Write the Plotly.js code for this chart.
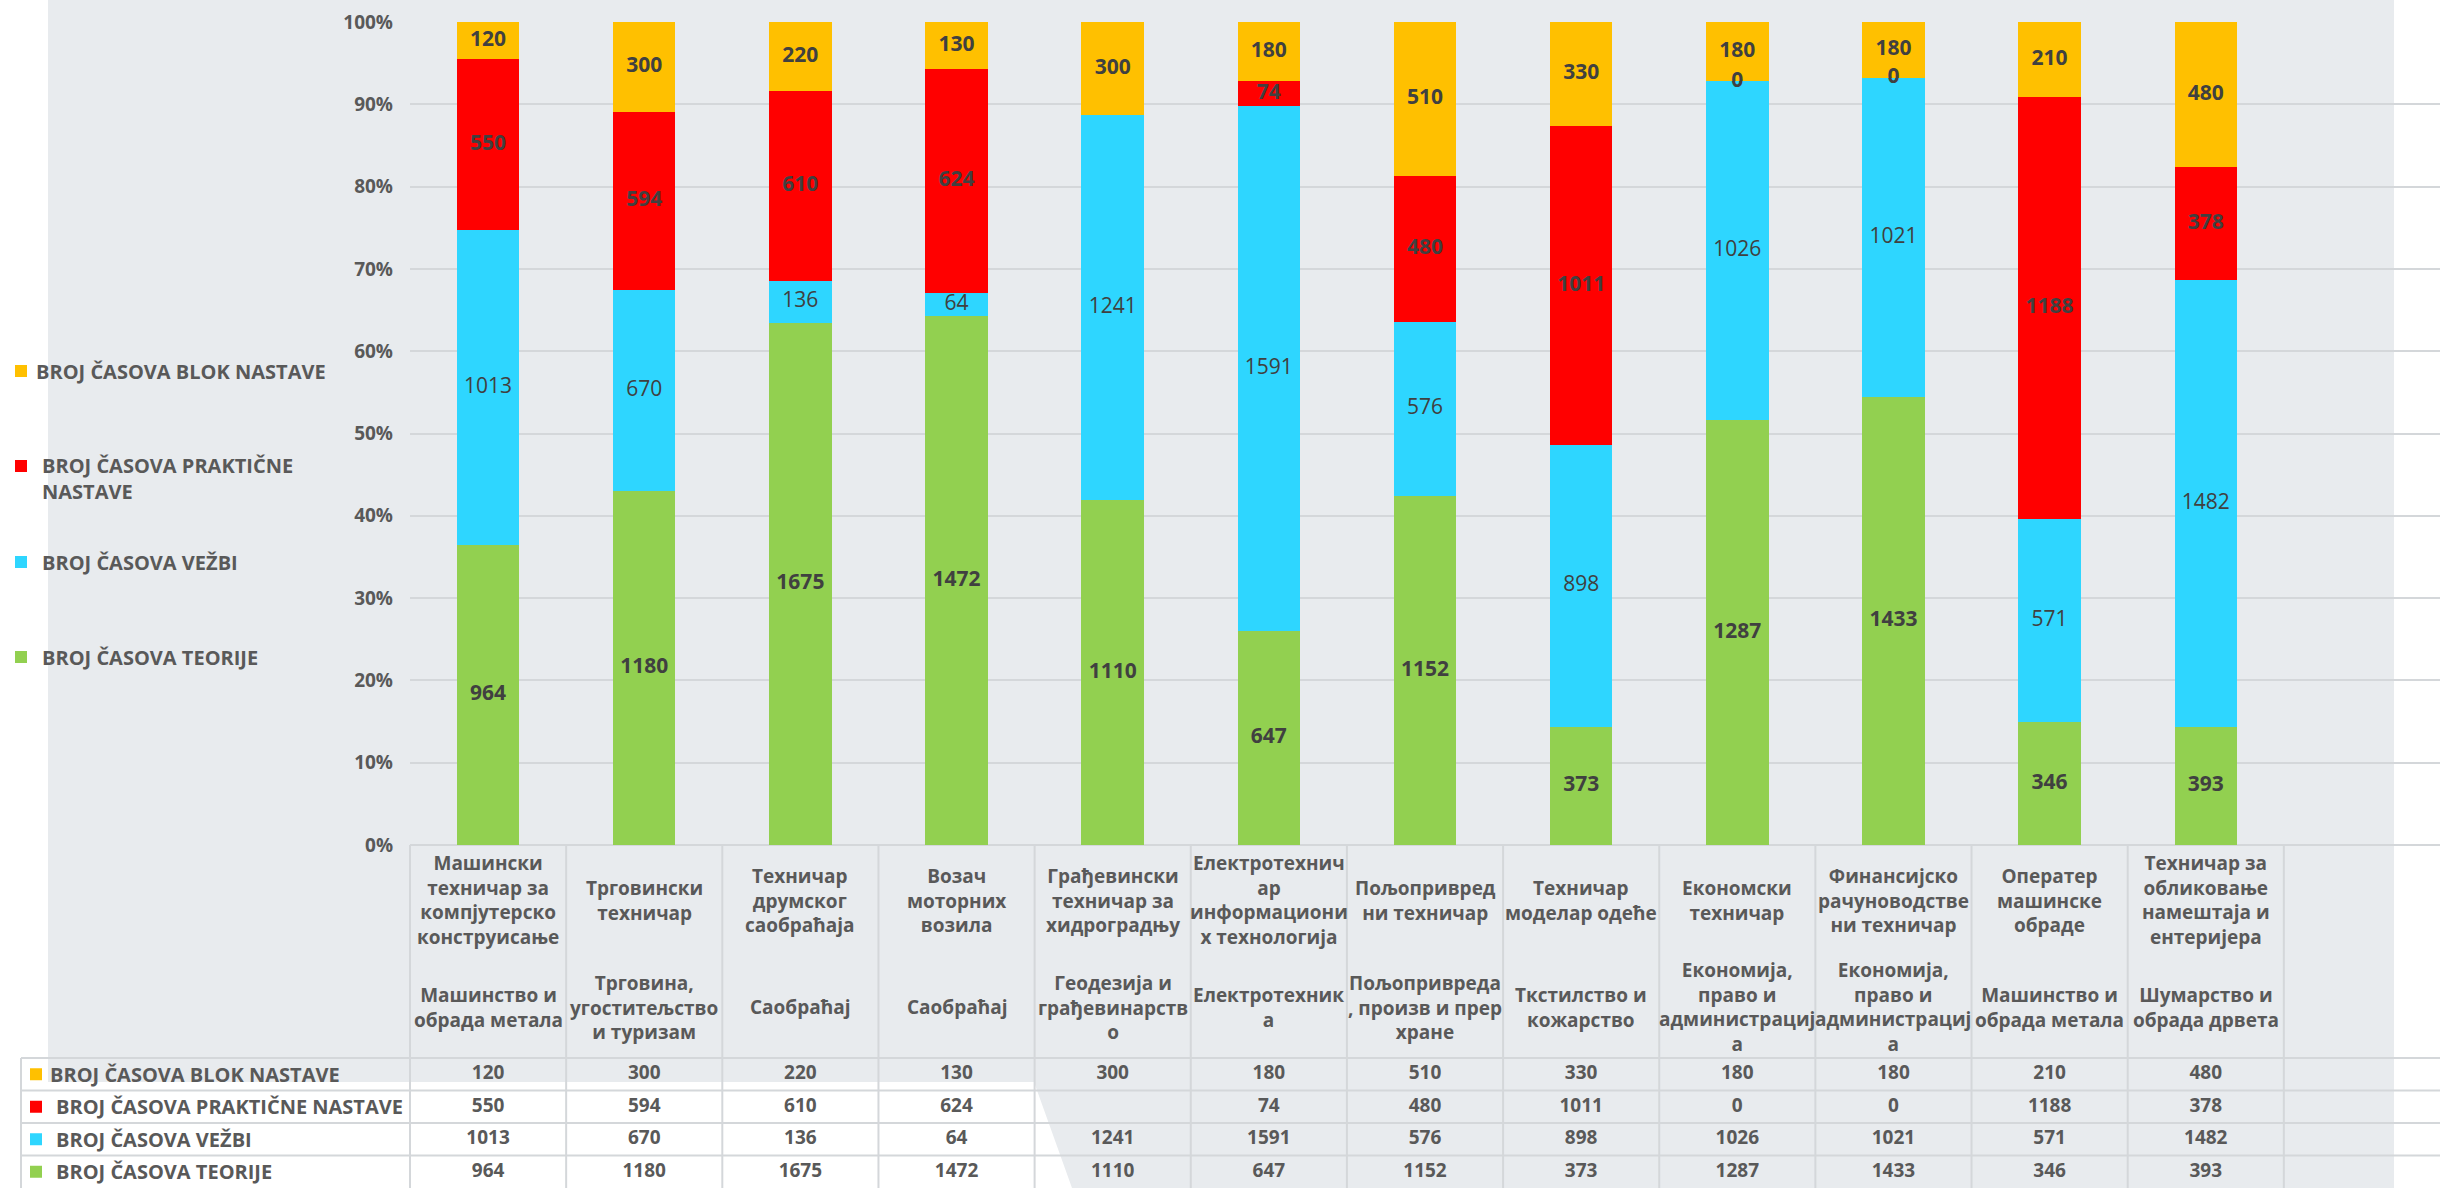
<!DOCTYPE html>
<html><head><meta charset="utf-8">
<script src="https://cdn.plot.ly/plotly-3.0.1.min.js"></script>
<style>html,body{margin:0;padding:0;background:#fff;overflow:hidden;} #chart{width:2440px;height:1188px;}</style>
</head><body><div id="chart"></div>
<script>
// ---- DATA ----
const occupations = [
  'Машински<br>техничар за<br>компјутерско<br>конструисање',
  'Трговински<br>техничар',
  'Техничар<br>друмског<br>саобраћаја',
  'Возач<br>моторних<br>возила',
  'Грађевински<br>техничар за<br>хидроградњу',
  'Електротехнич<br>ар<br>информациони<br>х технологија',
  'Пољопривред<br>ни техничар',
  'Техничар<br>моделар одеће',
  'Економски<br>техничар',
  'Финансијско<br>рачуноводстве<br>ни техничар',
  'Оператер<br>машинске<br>обраде',
  'Техничар за<br>обликовање<br>намештаја и<br>ентеријера'
];
const fields = [
  'Машинство и<br>обрада метала',
  'Трговина,<br>угоститељство<br>и туризам',
  'Саобраћај',
  'Саобраћај',
  'Геодезија и<br>грађевинарств<br>о',
  'Електротехник<br>а',
  'Пољопривреда<br>, произв и прер<br>хране',
  'Ткстилство и<br>кожарство',
  'Економија,<br>право и<br>администрациј<br>а',
  'Економија,<br>право и<br>администрациј<br>а',
  'Машинство и<br>обрада метала',
  'Шумарство и<br>обрада дрвета'
];
const seriesNames = ['BROJ ČASOVA BLOK NASTAVE', 'BROJ ČASOVA PRAKTIČNE NASTAVE', 'BROJ ČASOVA VEŽBI', 'BROJ ČASOVA TEORIJE'];
const blok      = [120, 300, 220, 130, 300, 180, 510, 330, 180, 180, 210, 480];
const prakticne = [550, 594, 610, 624, null, 74, 480, 1011, 0, 0, 1188, 378];
const vezbi     = [1013, 670, 136, 64, 1241, 1591, 576, 898, 1026, 1021, 571, 1482];
const teorije   = [964, 1180, 1675, 1472, 1110, 647, 1152, 373, 1287, 1433, 346, 393];
const yTicks    = [0, 10, 20, 30, 40, 50, 60, 70, 80, 90, 100];

// ---- STYLE ----
const colors = {blok: '#FFC000', prak: '#FF0000', vezbi: '#2ED6FF', teorije: '#92D050'};
const FONT = 'Open Sans, Noto Sans, DejaVu Sans, sans-serif';
const TXT = '#595959', LBL = '#404040', LINE = '#D4D7DA', GREY = '#E8EBEE';
const W = 2440, H = 1188, L = 410;
const px = p => (p - L) / (W - L);
const py = q => (H - q) / H;

const series = [blok, prakticne, vezbi, teorije];           // top -> bottom (table order)
const seriesColor = [colors.blok, colors.prak, colors.vezbi, colors.teorije];
const idx = blok.map((_, i) => i);
const totals = idx.map(i => series.reduce((s, arr) => s + (arr[i] || 0), 0));

const traces = [];
// stacked bars, bottom first
const stackOrder = [3, 2, 1, 0];
stackOrder.forEach(k => {
  traces.push({
    type: 'bar', x: idx, y: series[k], name: seriesNames[k],
    marker: {color: seriesColor[k], line: {width: 0}},
    hoverinfo: 'skip', showlegend: false
  });
});
// data labels (midpoints of each segment in percent)
const base = idx.map(() => 0);
stackOrder.forEach(k => {
  const xs = [], ys = [], ts = [];
  idx.forEach(i => {
    const v = series[k][i];
    if (v === null || v === undefined) return;
    const mid = (base[i] + v / 2) / totals[i] * 100;
    base[i] += v;
    xs.push(i); ys.push(mid); ts.push(String(v));
  });
  traces.push({
    type: 'scatter', mode: 'text', x: xs, y: ys, text: ts, cliponaxis: false,
    textposition: 'middle center', hoverinfo: 'skip', showlegend: false,
    textfont: {family: FONT, size: 21, color: LBL, weight: k === 2 ? 400 : 700}
  });
});
// data table values
series.forEach((arr, k) => {
  traces.push({
    type: 'scatter', mode: 'text', xaxis: 'x', yaxis: 'y2',
    x: idx, y: idx.map(() => seriesNames[k]),
    text: arr.map(v => (v === null ? '' : String(v))),
    textposition: 'middle center', cliponaxis: false, hoverinfo: 'skip', showlegend: false,
    textfont: {family: FONT, size: 19, color: TXT, weight: 700}
  });
});

// ---- SHAPES ----
const shapes = [];
const gp = [[48, 0], [2394, 0], [2394, 1188], [1072, 1188], [1034, 1082], [48, 1082]];
shapes.push({type: 'path', xref: 'paper', yref: 'paper', layer: 'below', line: {width: 0}, fillcolor: GREY,
  path: 'M' + gp.map(p => px(p[0]) + ',' + py(p[1])).join('L') + 'Z'});
const hl = (x0, x1, y) => shapes.push({type: 'line', xref: 'paper', yref: 'paper', layer: 'below',
  x0: px(x0), x1: px(x1), y0: py(y), y1: py(y), line: {color: LINE, width: 2}});
const vl = (x, y0, y1) => shapes.push({type: 'line', xref: 'paper', yref: 'paper', layer: 'below',
  x0: px(x), x1: px(x), y0: py(y0), y1: py(y1), line: {color: LINE, width: 2}});
hl(L, W, 845);
const rowH = 130 / 4;
for (let r = 0; r < 4; r++) hl(21, W, 1058 + r * rowH);
vl(21, 1058, H);
const colW = (W - L) / 13;
for (let c = 0; c <= 12; c++) vl(L + c * colW, 845, H);

// legend / table row keys
const legendY = [371, 478, 562, 657];
const rowY = [0, 1, 2, 3].map(r => 1058 + (r + 0.5) * rowH);
const annotations = [];
seriesNames.forEach((name, k) => {
  const ly = k === 1 ? 466 : legendY[k];
  shapes.push({type: 'rect', xref: 'paper', yref: 'paper', layer: 'above', line: {width: 0}, fillcolor: seriesColor[k],
    x0: px(15), x1: px(27), y0: py(ly - 6), y1: py(ly + 6)});
  annotations.push({xref: 'paper', yref: 'paper', x: px(k === 0 ? 34 : 40), y: py(legendY[k]),
    xanchor: 'left', yanchor: 'middle', align: 'left', showarrow: false,
    text: k === 1 ? name.replace(' NASTAVE', '<br>NASTAVE') : name,
    font: {family: FONT, size: 20, color: TXT, weight: 700}});
  shapes.push({type: 'rect', xref: 'paper', yref: 'paper', layer: 'above', line: {width: 0}, fillcolor: seriesColor[k],
    x0: px(30), x1: px(42), y0: py(rowY[k] - 6), y1: py(rowY[k] + 6)});
  annotations.push({xref: 'paper', yref: 'paper', x: px(k === 0 ? 48 : 54), y: py(rowY[k]),
    xanchor: 'left', yanchor: 'middle', align: 'left', showarrow: false, text: name,
    font: {family: FONT, size: 20, color: TXT, weight: 700}});
});
// category header cells
idx.forEach(i => {
  annotations.push({xref: 'x', yref: 'paper', x: i, y: py(900), xanchor: 'center', yanchor: 'middle',
    align: 'center', showarrow: false, text: occupations[i],
    font: {family: FONT, size: 19, color: TXT, weight: 700}});
  annotations.push({xref: 'x', yref: 'paper', x: i, y: py(1007), xanchor: 'center', yanchor: 'middle',
    align: 'center', showarrow: false, text: fields[i],
    font: {family: FONT, size: 19, color: TXT, weight: 700}});
});

const layout = {
  width: W, height: H,
  margin: {l: L, r: 0, t: 0, b: 0, pad: 0},
  paper_bgcolor: '#FFFFFF', plot_bgcolor: 'rgba(0,0,0,0)',
  barmode: 'stack', barnorm: 'percent', bargap: 0.6,
  showlegend: false,
  xaxis: {range: [-0.5, 12.5], showgrid: false, zeroline: false, showticklabels: false, ticks: '', showline: false, fixedrange: true},
  yaxis: {domain: [py(845), py(22)], range: [0, 100], tickvals: yTicks, ticktext: yTicks.map(v => v + '%'),
    showgrid: true, gridcolor: LINE, gridwidth: 2, zeroline: false, showline: false, ticks: '',
    ticklabelstandoff: 16, tickfont: {family: FONT, size: 19, color: TXT, weight: 700}, fixedrange: true},
  yaxis2: {domain: [0, py(1058)], anchor: 'x', type: 'category', categoryarray: seriesNames, categoryorder: 'array',
    range: [3.5, -0.5], showgrid: false, zeroline: false, showticklabels: false, ticks: '', showline: false, fixedrange: true},
  shapes: shapes, annotations: annotations
};
Plotly.newPlot('chart', traces, layout, {displayModeBar: false, staticPlot: true});
</script></body></html>
